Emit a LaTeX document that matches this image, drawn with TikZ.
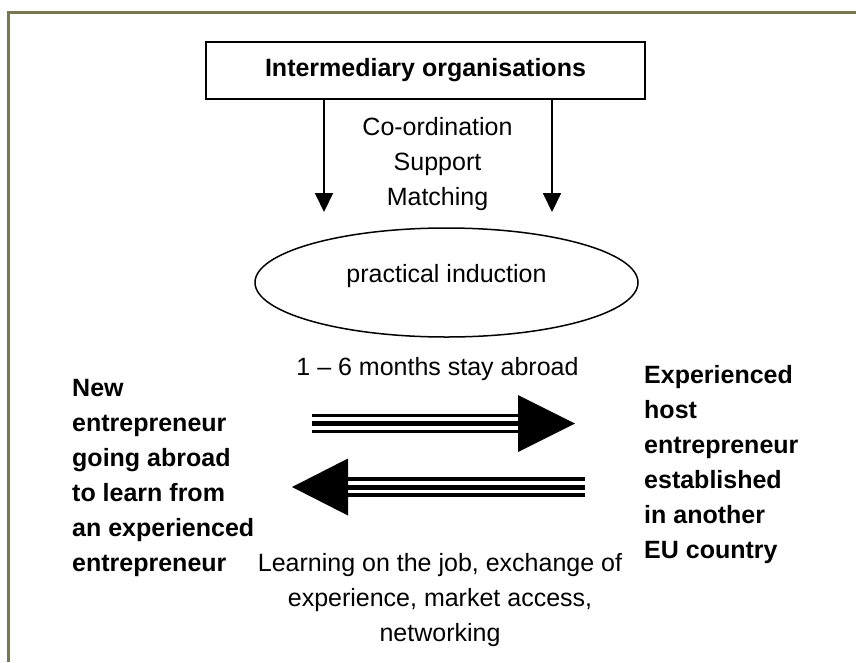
\documentclass[tikz,border=0pt]{standalone}
\usepackage{fontspec}
\setmainfont{Liberation Sans}
\usetikzlibrary{shapes.geometric,arrows.meta}
\definecolor{frameolive}{RGB}{120,120,80}
\begin{document}
\begin{tikzpicture}[x=1pt,y=-1pt,
  txt/.style={font=\fontsize{25}{35}\selectfont, inner sep=0pt},
  boldtxt/.style={font=\fontsize{25}{35}\selectfont\bfseries, inner sep=0pt},
  downarr/.style={line width=2pt, -{Triangle[length=19pt,width=18pt]}},
  shaftthin/.style={line width=3.2pt},
  shaftthick/.style={line width=5pt}]
\useasboundingbox (0,0) rectangle (856,662);
% frame
\draw[frameolive, line width=2.5pt] (8.5,662) -- (8.5,12.5) -- (856,12.5);
% top box
\node[boldtxt, draw, line width=1.6pt, minimum width=439pt, minimum height=57pt] (org) at (425.5,70.5) {Intermediary organisations};
% down arrows
\coordinate (tipL) at (324,212);
\coordinate (tipR) at (552,212);
\draw[downarr] (org.south -| tipL) -- (tipL);
\draw[downarr] (org.south -| tipR) -- (tipR);
\node[txt, anchor=north, align=center] (csm) at (437.5,117) {Co-ordination\\Support\\Matching};
% ellipse
\node[txt, draw, ellipse, line width=1.5pt, minimum width=383pt, minimum height=109pt, text height=12pt, text depth=12pt] (ind) at (446.5,282.5) {practical induction};
\node[txt, anchor=base] (stay) at (437.5,375) {1 \textendash{} 6 months stay abroad};
% side texts
\node[boldtxt, anchor=north west, align=left] (newent) at (72,379) {New\\entrepreneur\\going abroad\\to learn from\\an experienced\\entrepreneur};
\node[boldtxt, anchor=north west, align=left] (host) at (644,365) {Experienced\\host\\entrepreneur\\established\\in another\\EU country};
\node[txt, anchor=north, align=center] (learn) at (440,553.5) {Learning on the job, exchange of\\experience, market access,\\networking};
% fat right arrow
\coordinate (raS) at (312,423.5);
\coordinate (raB) at (518,423.5);
\coordinate (raT) at (575,423.5);
\draw[shaftthin] ([yshift=8pt]raS) -- ([yshift=8pt,xshift=2pt]raB);
\draw[shaftthick] (raS) -- ([xshift=2pt]raB);
\draw[shaftthin] ([yshift=-8pt]raS) -- ([yshift=-8pt,xshift=2pt]raB);
\fill ([yshift=28.5pt]raB) -- (raT) -- ([yshift=-28.5pt]raB) -- cycle;
% fat left arrow
\coordinate (laS) at (585,487);
\coordinate (laB) at (348,487);
\coordinate (laT) at (292,487);
\draw[shaftthin] ([yshift=8pt]laS) -- ([yshift=8pt,xshift=-2pt]laB);
\draw[shaftthick] (laS) -- ([xshift=-2pt]laB);
\draw[shaftthin] ([yshift=-8pt]laS) -- ([yshift=-8pt,xshift=-2pt]laB);
\fill ([yshift=28.5pt]laB) -- (laT) -- ([yshift=-28.5pt]laB) -- cycle;
\end{tikzpicture}
\end{document}
